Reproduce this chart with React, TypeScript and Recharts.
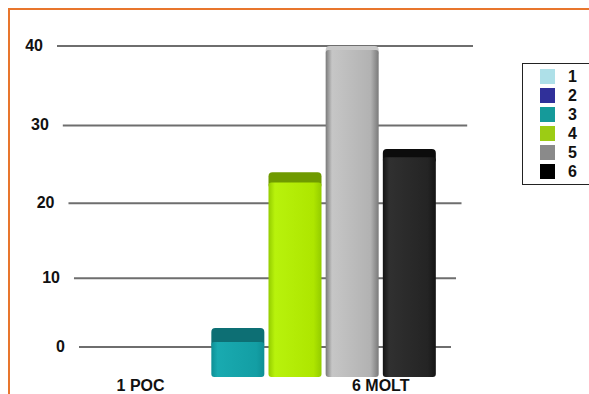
import React from 'react';
import { BarChart, Bar, XAxis, YAxis, CartesianGrid, Legend } from 'recharts';

// one bar per sample, only first and last get an axis label
const categories = ['1', '2', '3', '4', '5', '6'];
const values = [0, 0, 3, 24, 40, 27];
const xTickLabels = ['1 POC', '', '', '', '', '6 MOLT'];
const legendLabels = ['1', '2', '3', '4', '5', '6'];
const yTicks = [0, 10, 20, 30, 40];

const frontStops = [
  ['#a8d8e0', '#c4eaf0', '#b8e2ea'],
  ['#262690', '#3838a8', '#3030a0'],
  ['#0e8f95', '#19aab0', '#139ea4'],
  ['#94cc00', '#b8f20c', '#aee600'],
  ['#7a7a7a', '#c6c6c6', '#b2b2b2'],
  ['#141414', '#303030', '#242424'],
];
const topColors = ['#8fc4cc', '#1d1d78', '#0d6f74', '#6f9a00', '#c8c8c8', '#0c0c0c'];
const swatchColors = ['#aee0e8', '#30309a', '#159a9a', '#9ccc14', '#8a8a8a', '#000000'];

const data = categories.map((name, i) => ({ name, value: values[i] }));

const W = 579;
const H = 384;
const PLOT_TOP = 36;
const PLOT_BOTTOM = 337;
const PLOT_LEFT = 58;
const PLOT_RIGHT = 452;
const SLANT = 11;
const FLOOR_DEPTH = 30;
const PERSPECTIVE = 1.065;
const FONT = '"Liberation Sans", Arial, sans-serif';

// slightly non-linear value scale so the back wall grid spacing looks tilted
function perspectiveScale(dom: number[] = [0, 1], rng: number[] = [0, 1]): any {
  let d = dom.slice();
  let r = rng.slice();
  const s: any = (v: number) => {
    const t = Math.max(0, (v - d[0]) / (d[1] - d[0]));
    return r[0] + (r[1] - r[0]) * Math.pow(t, PERSPECTIVE);
  };
  s.domain = (nd?: number[]) => {
    if (nd === undefined) return d.slice();
    d = nd.map(Number);
    return s;
  };
  s.range = (nr?: number[]) => {
    if (nr === undefined) return r.slice();
    r = nr.map(Number);
    return s;
  };
  s.copy = () => perspectiveScale(d, r);
  s.ticks = () => yTicks.slice();
  s.tickFormat = () => (v: number) => String(v);
  s.nice = () => s;
  s.clamp = () => s;
  return s;
}

// fake perspective: grid lines get shorter towards the floor
function lineEnds(y: number, x1: number, x2: number) {
  const t = (y - PLOT_TOP) / (PLOT_BOTTOM - PLOT_TOP);
  return [x1 - SLANT + 2 * SLANT * t, x2 + SLANT - 2 * SLANT * t];
}

function GridLine(props: any) {
  const [a, b] = lineEnds(props.y1, props.x1, props.x2);
  return (
    <line
      key={`h-${props.index}`}
      x1={a}
      x2={b}
      y1={props.y1}
      y2={props.y2}
      stroke="#6e6e6e"
      strokeWidth={2}
    />
  );
}

function YTick({ y, payload }: any) {
  const [start] = lineEnds(y, PLOT_LEFT, PLOT_RIGHT);
  return (
    <text
      x={start - 14}
      y={y}
      dy={5}
      textAnchor="end"
      fontFamily={FONT}
      fontWeight="bold"
      fontSize={16}
      fill="#111"
    >
      {payload.value}
    </text>
  );
}

function XTick({ x, payload }: any) {
  const i = categories.indexOf(payload.value);
  const cx = 220;
  const px = cx + (x - cx) * 0.84;
  return (
    <text
      x={px}
      y={PLOT_BOTTOM + 44}
      textAnchor="middle"
      fontFamily={FONT}
      fontWeight="bold"
      fontSize={16}
      fill="#111"
    >
      {xTickLabels[i]}
    </text>
  );
}

function Bar3D(props: any) {
  const { x, y, width, height, payload } = props;
  if (!height || height <= 0) return null;
  const i = categories.indexOf(payload.name);
  const base = y + height + FLOOR_DEPTH;
  const faceH = Math.min(14, Math.max(4, (y - PLOT_TOP) * 0.08));
  const id = `front-${i}`;
  const [l, m, r] = frontStops[i];
  return (
    <g>
      <defs>
        <linearGradient id={id} x1="0" y1="0" x2="1" y2="0">
          <stop offset="0" stopColor={l} />
          <stop offset="0.12" stopColor={m} />
          <stop offset="0.85" stopColor={r} />
          <stop offset="1" stopColor={l} />
        </linearGradient>
      </defs>
      <rect x={x} y={y} width={width} height={faceH + 6} rx={4} fill={topColors[i]} />
      <rect x={x} y={y + faceH} width={width} height={base - y - faceH} rx={3} fill={`url(#${id})`} />
    </g>
  );
}

function LegendBox() {
  return (
    <div
      style={{
        border: '1px solid #222',
        borderRight: 'none',
        background: '#fff',
        padding: '3px 0 3px 17px',
        width: 67,
        boxSizing: 'border-box',
        fontFamily: FONT,
      }}
    >
      {legendLabels.map((label, i) => (
        <div key={label} style={{ display: 'flex', alignItems: 'center', height: 19 }}>
          <span style={{ width: 15, height: 15, background: swatchColors[i], marginRight: 13 }} />
          <span style={{ fontWeight: 'bold', fontSize: 16, color: '#111' }}>{label}</span>
        </div>
      ))}
    </div>
  );
}

export default function App() {
  return (
    <>
      <style>{'html,body{margin:0;overflow:hidden}'}</style>
      <div style={{ padding: '8px 0 0 8px' }}>
        <div
          style={{
            width: W,
            height: H,
            borderTop: '2px solid #e8762d',
            borderLeft: '2px solid #e8762d',
            background: '#fff',
          }}
        >
          <BarChart
            width={W}
            height={H}
            data={data}
            barCategoryGap={2}
            margin={{ top: PLOT_TOP, right: W - PLOT_RIGHT, bottom: H - PLOT_BOTTOM - 40, left: 0 }}
          >
            <CartesianGrid vertical={false} horizontal={GridLine} />
            <XAxis
              dataKey="name"
              height={40}
              interval={0}
              axisLine={false}
              tickLine={false}
              padding={{ left: 27, right: 24 }}
              tick={<XTick />}
            />
            <YAxis
              width={PLOT_LEFT}
              type="number"
              scale={perspectiveScale()}
              domain={[0, 40]}
              ticks={yTicks}
              axisLine={false}
              tickLine={false}
              tick={<YTick />}
            />
            <Legend
              layout="horizontal"
              verticalAlign="middle"
              align="center"
              wrapperStyle={{ left: 512, top: 53, width: 67, height: 'auto' }}
              content={() => <LegendBox />}
            />
            <Bar dataKey="value" isAnimationActive={false} shape={Bar3D} />
          </BarChart>
        </div>
      </div>
    </>
  );
}
